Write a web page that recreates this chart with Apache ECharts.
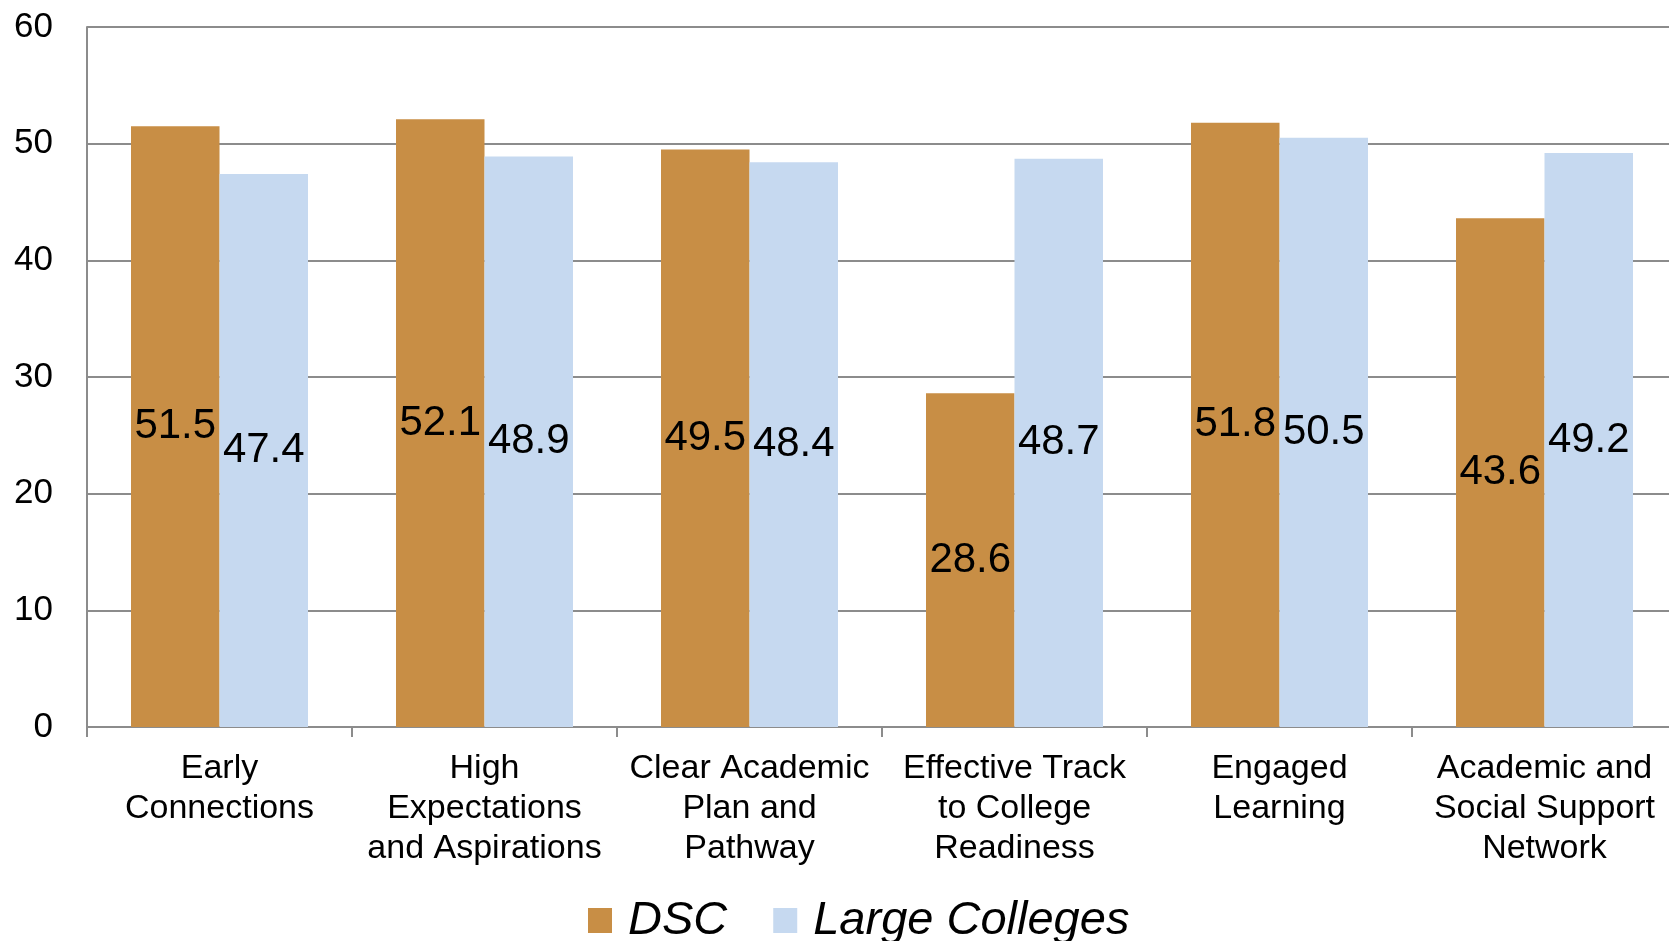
<!DOCTYPE html>
<html>
<head>
<meta charset="utf-8">
<script src="https://cdn.jsdelivr.net/npm/echarts@6/dist/echarts.min.js"></script>
<style>
html,body{margin:0;padding:0;background:#fff;}
#chart{width:1669px;height:941px;}
</style>
</head>
<body>
<div id="chart"></div>
<script>
const categories = [
  "Early\nConnections",
  "High\nExpectations\nand Aspirations",
  "Clear Academic\nPlan and\nPathway",
  "Effective Track\nto College\nReadiness",
  "Engaged\nLearning",
  "Academic and\nSocial Support\nNetwork"
];
const seriesNames = ["DSC", "Large Colleges"];
const dscValues = [51.5, 52.1, 49.5, 28.6, 51.8, 43.6];
const largeValues = [47.4, 48.9, 48.4, 48.7, 50.5, 49.2];
const yTicks = { min: 0, max: 60, interval: 10 };

const FONT = "Liberation Sans, Arial, sans-serif";
const chart = echarts.init(document.getElementById('chart'), null, {renderer: 'canvas'});
const labelStyle = {
  show: true, position: 'inside', color: '#000', fontSize: 42, fontFamily: FONT
};
chart.setOption({
  animation: false,
  backgroundColor: '#fff',
  textStyle: { fontFamily: FONT },
  grid: { left: 87, top: 27, width: 1590, bottom: 214, containLabel: false, outerBoundsMode: 'none' },
  legend: {
    data: seriesNames,
    left: 588, top: 897, padding: 0,
    itemWidth: 24, itemHeight: 25, itemGap: 46,
    icon: 'rect',
    textStyle: { fontSize: 47, fontStyle: 'italic', color: '#000', fontFamily: FONT, padding: [0, 0, 0, 11] }
  },
  xAxis: {
    type: 'category',
    data: categories,
    axisLine: { show: true, lineStyle: { color: '#8c8c8c', width: 2 } },
    axisTick: { show: true, length: 10, lineStyle: { color: '#8c8c8c', width: 2 } },
    axisLabel: { interval: 0, color: '#000', fontSize: 34, lineHeight: 40, margin: 22, fontFamily: FONT }
  },
  yAxis: {
    type: 'value',
    min: yTicks.min, max: yTicks.max, interval: yTicks.interval,
    axisLine: { show: true, lineStyle: { color: '#8c8c8c', width: 2 } },
    axisTick: { show: false },
    axisLabel: { color: '#000', fontSize: 35, margin: 34, fontFamily: FONT },
    splitLine: { show: true, lineStyle: { color: '#8c8c8c', width: 2 } }
  },
  series: [
    {
      name: seriesNames[0], type: 'bar', data: dscValues,
      barWidth: 88.5, barGap: '0%',
      itemStyle: { color: '#C88E45' },
      label: labelStyle
    },
    {
      name: seriesNames[1], type: 'bar', data: largeValues,
      barWidth: 88.5, barGap: '0%',
      itemStyle: { color: '#C6D9F0' },
      label: labelStyle
    }
  ]
});
</script>
</body>
</html>
